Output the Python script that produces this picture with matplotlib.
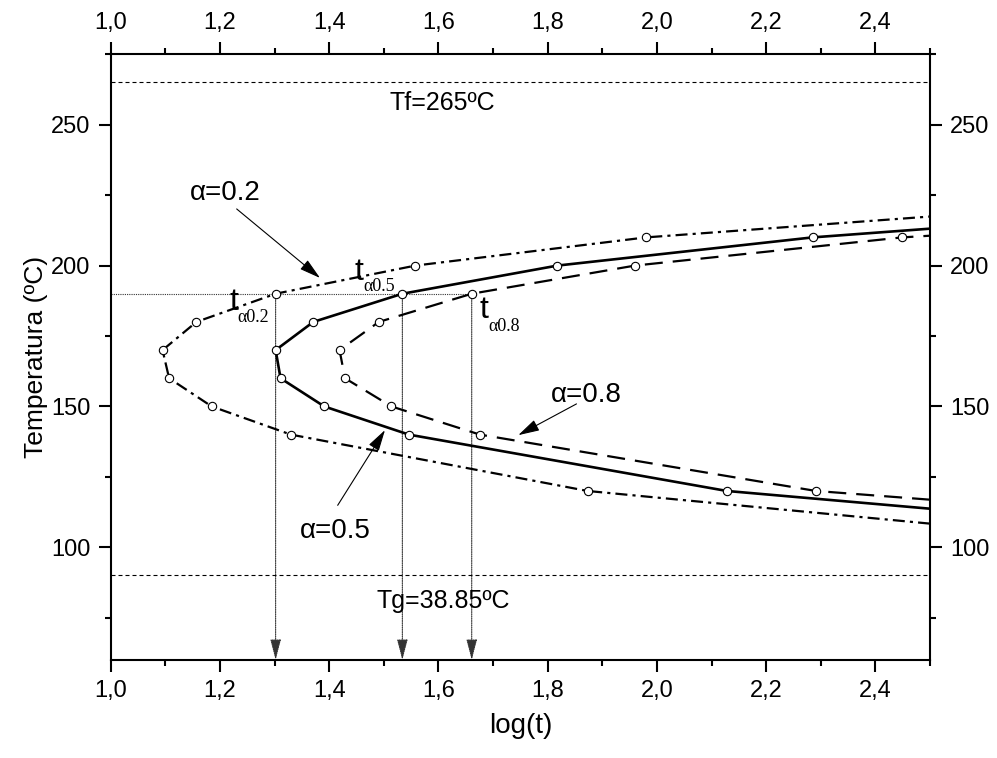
import matplotlib
matplotlib.use('Agg')
import matplotlib.pyplot as plt
from matplotlib.ticker import MultipleLocator, FuncFormatter

plt.rcParams['font.family'] = ['Liberation Sans', 'DejaVu Sans']

# temperaturas medidas (ºC) y log(t) para cada fraccion transformada
temp_pts = [120, 140, 150, 160, 170, 180, 190, 200, 210]
logt_a02 = [1.873, 1.330, 1.185, 1.107, 1.095, 1.157, 1.302, 1.558, 1.980]
logt_a05 = [2.128, 1.546, 1.391, 1.311, 1.302, 1.371, 1.534, 1.818, 2.285]
logt_a08 = [2.291, 1.676, 1.514, 1.429, 1.419, 1.491, 1.661, 1.960, 2.449]

# temperatura de las ramas (inferior, superior) en el borde log(t)=2.5
edge_logt = 2.5
edge_a02 = [108.4, 217.4]
edge_a05 = [113.7, 213.1]
edge_a08 = [116.9, 210.6]

T_ref = 190      # isoterma para leer los tiempos
Tf = 265
Tg_line = 90

fig = plt.figure(figsize=(9.97, 7.58), dpi=100)
ax = fig.add_axes([0.111, 0.1293, 0.8218, 0.7991])


def curva(logt, edge, **kw):
    x = [edge_logt] + logt + [edge_logt]
    y = [edge[0]] + temp_pts + [edge[1]]
    ax.plot(x, y, color='k', marker='o', markersize=6, markerfacecolor='white',
            markeredgecolor='k', markeredgewidth=0.8,
            markevery=slice(1, len(x) - 1), solid_capstyle='butt',
            dash_capstyle='butt', **kw)


curva(logt_a02, edge_a02, lw=1.6, linestyle=(0, (5.4, 2.3, 1.4, 2.3)))
curva(logt_a05, edge_a05, lw=1.9, linestyle='-')
curva(logt_a08, edge_a08, lw=1.6, linestyle=(0, (8.1, 4.5)))

ax.set_xlim(1.0, 2.5)
ax.set_ylim(60, 275)

# lineas de Tf y Tg
ax.axhline(Tf, color='k', lw=0.8, linestyle=(0, (3.6, 2.7)))
ax.axhline(Tg_line, color='k', lw=0.8, linestyle=(0, (3.6, 2.7)))
ax.text(1.6066, 255.2, 'Tf=265ºC', fontsize=18, ha='center', va='baseline')
ax.text(1.6084, 78.5, 'Tg=38.85ºC', fontsize=18, ha='center', va='baseline')

# tiempos a 190 ºC
i190 = temp_pts.index(T_ref)
t_vals = [logt_a02[i190], logt_a05[i190], logt_a08[i190]]
ax.plot([1.0, max(t_vals)], [T_ref, T_ref], color='0.2', lw=0.8,
        linestyle=(0, (1, 1)), zorder=1)
for t in t_vals:
    ax.annotate('', xy=(t, 60), xytext=(t, T_ref),
                arrowprops=dict(arrowstyle='-|>,head_length=0.85,head_width=0.22',
                                mutation_scale=15, color='0.2', lw=0.8,
                                linestyle=(0, (1, 1)), shrinkA=0, shrinkB=0),
                zorder=1)

# etiquetas t_alpha
for (xt, yt, xs, ys, sub) in [(1.2170, 184.3, 1.2318, 180.1, 'α0.2'),
                              (1.4460, 195.0, 1.4619, 190.8, 'α0.5'),
                              (1.6745, 181.5, 1.6908, 176.6, 'α0.8')]:
    ax.text(xt, yt, 't', fontsize=23, ha='left', va='baseline')
    ax.text(xs, ys, sub, fontsize=13, ha='left', va='baseline',
            family=['Liberation Serif', 'DejaVu Serif'])

# etiquetas de cada curva con flecha
flecha = dict(arrowstyle='-|>,head_length=0.87,head_width=0.24',
              mutation_scale=15, color='k', lw=0.8, shrinkA=0, shrinkB=0)
ax.text(1.2103, 223.2, 'α=0.2', fontsize=20, ha='center', va='baseline')
ax.annotate('', xy=(1.3833, 195.6), xytext=(1.2307, 220.1), arrowprops=flecha)
ax.text(1.4106, 103.2, 'α=0.5', fontsize=20, ha='center', va='baseline')
ax.annotate('', xy=(1.5022, 141.6), xytext=(1.4156, 114.9), arrowprops=flecha)
ax.text(1.8702, 151.7, 'α=0.8', fontsize=20, ha='center', va='baseline')
ax.annotate('', xy=(1.7462, 139.8), xytext=(1.8528, 150.9), arrowprops=flecha)

# ejes
ax.xaxis.set_major_locator(MultipleLocator(0.2))
ax.xaxis.set_minor_locator(MultipleLocator(0.1))
ax.yaxis.set_major_locator(MultipleLocator(50))
ax.yaxis.set_minor_locator(MultipleLocator(25))
ax.xaxis.set_major_formatter(FuncFormatter(lambda v, p: f'{v:.1f}'.replace('.', ',')))
ax.yaxis.set_major_formatter(FuncFormatter(lambda v, p: f'{v:.0f}'))

ax.tick_params(which='both', direction='out', top=True, right=True,
               labeltop=True, labelright=True, width=1.5, labelsize=17)
ax.tick_params(which='major', length=8.6, pad=6)
ax.tick_params(which='minor', length=4.3)
for s in ax.spines.values():
    s.set_linewidth(1.5)

ax.set_xlabel('log(t)', fontsize=20, labelpad=8)
ax.set_ylabel('Temperatura (ºC)', fontsize=19)
ax.yaxis.set_label_coords(-0.077, 0.5)

fig.savefig('out.png', dpi=100)
